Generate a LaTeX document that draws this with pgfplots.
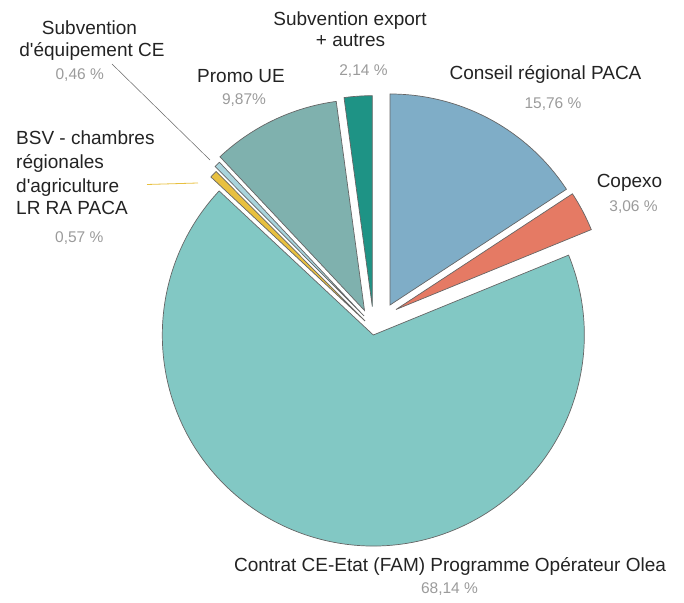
\documentclass[border=0pt]{standalone}
\usepackage{pgfplots}
\pgfplotsset{compat=1.18}
\usepackage{fontspec}
\setmainfont{Liberation Sans}
\definecolor{cConseil}{RGB}{127,173,199}
\definecolor{cCopexo}{RGB}{229,122,100}
\definecolor{cContrat}{RGB}{130,200,196}
\definecolor{cBSV}{RGB}{232,192,64}
\definecolor{cEquip}{RGB}{168,212,220}
\definecolor{cPromo}{RGB}{127,177,174}
\definecolor{cExport}{RGB}{30,147,133}
\definecolor{txt}{RGB}{35,35,35}
\definecolor{pct}{RGB}{155,155,155}
% Shares (%): Conseil 15.76, Copexo 3.06, Contrat 68.14, BSV 0.57,
% Equip 0.46, Promo 9.87, Export 2.14  -> angles = 90 - 3.6*cumulative
% slice: colour, vertex x, vertex y, start angle, end angle
\newcommand\slice[5]{%
  \filldraw[fill=#1, draw=black!60, line width=0.7pt]
    (axis cs:#2,#3) -- ++(#4:211pt)
    arc[start angle=#4, end angle=#5, radius=211pt] -- cycle;}
\tikzset{lab/.style={font=\fontsize{19}{22}\selectfont, text=txt, inner sep=0pt, anchor=base},
         pc/.style={font=\fontsize{15.5}{18}\selectfont, text=pct, inner sep=0pt, anchor=base}}
\begin{document}
\begin{tikzpicture}
\useasboundingbox (0,0) rectangle (684pt,602pt);
\begin{axis}[at={(0,0)}, anchor=south west, scale only axis,
  width=684pt, height=602pt, xmin=0, xmax=684, ymin=0, ymax=602,
  hide axis, clip=false]
\slice{cConseil}{390}{297}{90}{33.264}
\slice{cCopexo}{396}{292.5}{33.264}{22.248}
\slice{cContrat}{373.3}{267}{22.248}{-223.056}
\slice{cBSV}{365}{281}{-223.056}{-225.108}
\slice{cEquip}{364}{286}{-225.108}{-226.764}
\slice{cPromo}{364.5}{291.5}{-226.764}{-262.296}
\slice{cExport}{372.3}{295.3}{-262.296}{-270}
% leader lines
\draw[black!60, line width=0.5pt] (axis cs:112,538) -- (axis cs:210,442);
\draw[cBSV, line width=0.8pt] (axis cs:147,417.5) -- (axis cs:198,419);
% labels
\node[lab] at (axis cs:350,576) {Subvention export};
\node[lab] at (axis cs:350.5,555) {+ autres};
\node[pc] at (axis cs:363.5,526) {2,14 \%};
\node[lab] at (axis cs:545.5,522) {Conseil régional PACA};
\node[pc] at (axis cs:553,493) {15,76 \%};
\node[lab] at (axis cs:629.5,414) {Copexo};
\node[pc] at (axis cs:633.5,390) {3,06 \%};
\node[lab] at (axis cs:241,519) {Promo UE};
\node[pc] at (axis cs:244,497) {9,87\%};
\node[lab] at (axis cs:89.5,567) {Subvention};
\node[lab] at (axis cs:92,545) {d\textquotesingle équipement CE};
\node[pc] at (axis cs:79.7,522.7) {0,46 \%};
\node[lab, anchor=base west] at (axis cs:16,457) {BSV - chambres};
\node[lab, anchor=base west] at (axis cs:16,433.7) {régionales};
\node[lab, anchor=base west] at (axis cs:16,409.3) {d\textquotesingle agriculture};
\node[lab, anchor=base west] at (axis cs:16,387) {LR RA PACA};
\node[pc] at (axis cs:79.3,359.7) {0,57 \%};
\node[lab] at (axis cs:450,30.3) {Contrat CE-Etat (FAM) Programme Opérateur Olea};
\node[pc] at (axis cs:449.5,8.7) {68,14 \%};
\end{axis}
\end{tikzpicture}
\end{document}
